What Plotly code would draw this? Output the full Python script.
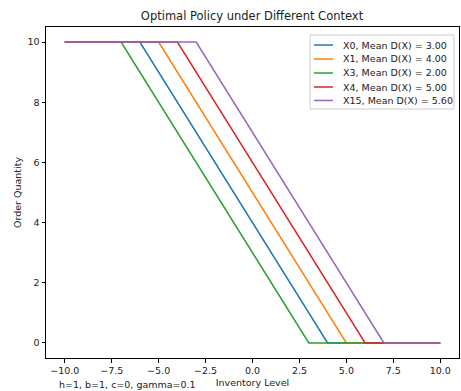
import plotly.graph_objects as go

# Data: vertices of each policy line
names = ["X0, Mean D(X) = 3.00", "X1, Mean D(X) = 4.00", "X3, Mean D(X) = 2.00",
         "X4, Mean D(X) = 5.00", "X15, Mean D(X) = 5.60"]
x_pts = [
    [-10, -6, 4, 10],
    [-10, -5, 5, 10],
    [-10, -7, 3, 10],
    [-10, -4, 6, 10],
    [-10, -3, 7, 10],
]
y_pts = [
    [10, 10, 0, 0],
    [10, 10, 0, 0],
    [10, 10, 0, 0],
    [10, 10, 0, 0],
    [10, 10, 0, 0],
]
colors = ["#1f77b4", "#ff7f0e", "#2ca02c", "#d62728", "#9467bd"]
x_ticks = [-10.0, -7.5, -5.0, -2.5, 0.0, 2.5, 5.0, 7.5, 10.0]
y_ticks = [0, 2, 4, 6, 8, 10]

FONT = "DejaVu Sans"
W, H = 461, 391
L, R, T, B = 46, 459, 27, 358


def px(x):
    return (x - L) / (R - L)


def py(y):
    return (B - y) / (B - T)


fig = go.Figure()
for n, xs, ys, c in zip(names, x_pts, y_pts, colors):
    fig.add_trace(go.Scatter(x=xs, y=ys, mode="lines", name=n, showlegend=False,
                             line=dict(color=c, width=1.5)))

# legend drawn by hand (matplotlib-like compact spacing)
fig.add_shape(type="rect", xref="paper", yref="paper",
              x0=px(310), x1=px(454), y0=py(109), y1=py(35),
              line=dict(color="#cccccc", width=1), fillcolor="rgba(255,255,255,0.8)")
row_y = [45, 59, 73, 87, 100.5]
for n, c, ry in zip(names, colors, row_y):
    fig.add_shape(type="line", xref="paper", yref="paper",
                  x0=px(314), x1=px(333), y0=py(ry), y1=py(ry),
                  line=dict(color=c, width=1.5))
    fig.add_annotation(text=n, xref="paper", yref="paper", x=px(341), y=py(ry),
                       xanchor="left", yanchor="middle", showarrow=False,
                       font=dict(size=9.5, family=FONT, color="#222"))

fig.update_layout(
    width=W, height=H,
    margin=dict(l=L, r=W - R, t=T, b=H - B),
    paper_bgcolor="white", plot_bgcolor="white",
    font=dict(family=FONT, size=9.5, color="#222"),
    title=dict(text="Optimal Policy under Different Context", x=252 / W, xanchor="center",
               y=1 - 16 / H, yanchor="middle", font=dict(size=11.5, family=FONT, color="#222")),
    showlegend=False,
)
fig.update_xaxes(range=[-11, 11], tickvals=x_ticks,
                 ticktext=[f"{v:.1f}".replace("-", "\u2212") for v in x_ticks],
                 showgrid=False, zeroline=False, showline=True, mirror=True,
                 linecolor="black", linewidth=1, ticks="outside", ticklen=3.5,
                 tickcolor="black",
                 title=dict(text="Inventory Level", standoff=4, font=dict(size=9.5)))
fig.update_yaxes(range=[-0.5, 10.5], tickvals=y_ticks,
                 showgrid=False, zeroline=False, showline=True, mirror=True,
                 linecolor="black", linewidth=1, ticks="outside", ticklen=3.5,
                 tickcolor="black",
                 title=dict(text="Order Quantity", standoff=4, font=dict(size=9.5)))
fig.add_annotation(text="h=1, b=1, c=0, gamma=0.1", xref="paper", yref="paper",
                   x=px(57), y=py(384.5), xanchor="left", yanchor="middle",
                   showarrow=False, font=dict(size=9.5, family=FONT, color="#222"))
fig.write_html("out.html")
